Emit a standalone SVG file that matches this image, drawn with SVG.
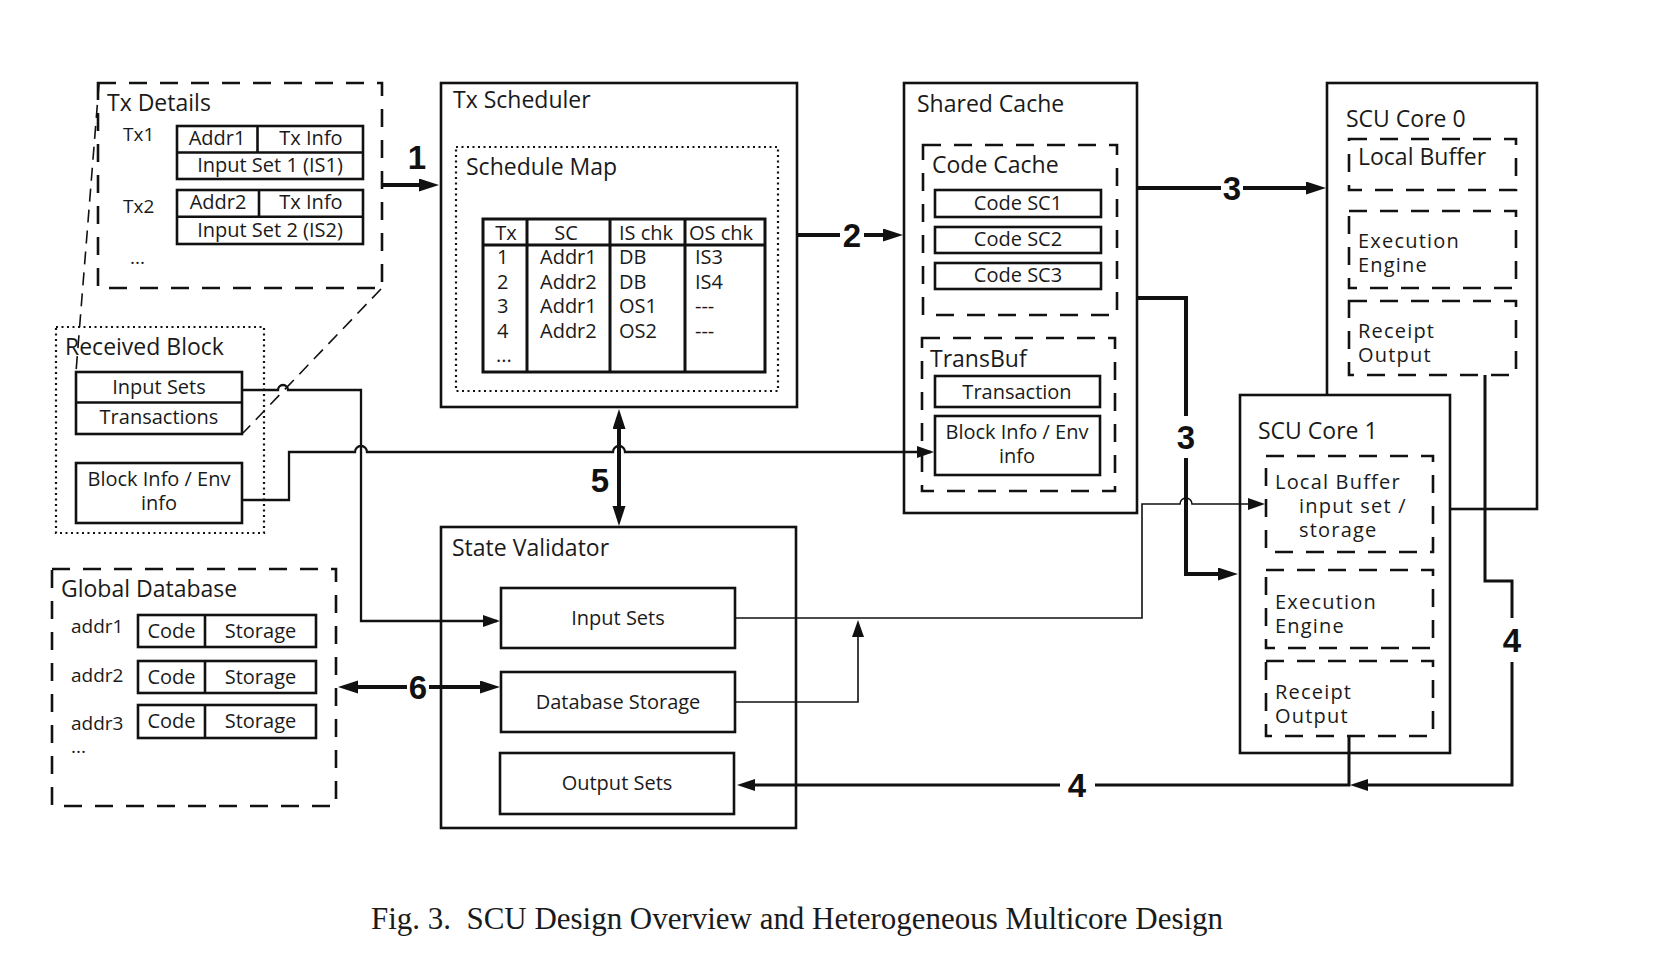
<svg xmlns="http://www.w3.org/2000/svg" width="1660" height="966" viewBox="0 0 1660 966">
<style>
.box{fill:#fff;stroke:#111;stroke-width:2.6}
.plain{fill:none;stroke:#111;stroke-width:2.6}
.dash{fill:none;stroke:#111;stroke-width:2.6;stroke-dasharray:18 13}
.dot{fill:none;stroke:#111;stroke-width:2.2;stroke-dasharray:2 3.5}
.zoomline{fill:none;stroke:#111;stroke-width:1.6;stroke-dasharray:13 8}
.tl{font-family:"Open Sans","Noto Sans",sans-serif;font-size:23px;fill:#1a1a1a}
.tw{font-family:"Open Sans","Noto Sans",sans-serif;font-size:20px;letter-spacing:1.2px;fill:#1a1a1a}
.tm{font-family:"Open Sans","Noto Sans",sans-serif;font-size:20px;fill:#1a1a1a}
.ts{font-family:"Open Sans","Noto Sans",sans-serif;font-size:19px;fill:#1a1a1a}
.c{text-anchor:middle}
.num{font-family:"Liberation Sans",Arial,sans-serif;font-weight:bold;font-size:33px;fill:#111;text-anchor:middle}
.thick{fill:none;stroke:#111;stroke-width:4}
.med{fill:none;stroke:#111;stroke-width:3}
.thin{fill:none;stroke:#111;stroke-width:2.3}
.hair{fill:none;stroke:#111;stroke-width:1.6}
.cap{font-family:"Liberation Serif","Times New Roman",serif;font-size:31px;fill:#1a1a1a}
</style>
<defs>
<marker id="big" markerUnits="userSpaceOnUse" markerWidth="22" markerHeight="14" refX="12" refY="6.5" orient="auto-start-reverse"><path d="M0,0 L20,6.5 L0,13 Z" fill="#111"/></marker>
<marker id="mid" markerUnits="userSpaceOnUse" markerWidth="20" markerHeight="13" refX="12" refY="6" orient="auto-start-reverse"><path d="M0,0 L18,6 L0,12 Z" fill="#111"/></marker>
<marker id="sm" markerUnits="userSpaceOnUse" markerWidth="19" markerHeight="12" refX="14" refY="6" orient="auto-start-reverse"><path d="M0,0 L17,6 L0,12 Z" fill="#111"/></marker>
</defs>
<rect width="1660" height="966" fill="#fff"/>

<g id="tx-details">
<rect class="dash" x="98" y="83" width="284" height="205"/>
<text class="tl" x="107" y="111">Tx Details</text>
<text class="ts" x="123" y="141">Tx1</text>
<rect class="box" x="177" y="126" width="186" height="53"/>
<path class="plain" d="M177,152.5 H363 M257.5,126 V152.5"/>
<text class="tm c" x="217" y="145">Addr1</text>
<text class="tm c" x="311" y="145">Tx Info</text>
<text class="tm c" x="270" y="172">Input Set 1 (IS1)</text>
<text class="ts" x="123" y="213">Tx2</text>
<rect class="box" x="177" y="190" width="186" height="54"/>
<path class="plain" d="M177,216.7 H363 M259,190 V216.7"/>
<text class="tm c" x="218" y="209">Addr2</text>
<text class="tm c" x="311" y="209">Tx Info</text>
<text class="tm c" x="270" y="237">Input Set 2 (IS2)</text>
<text class="ts" x="130" y="264">...</text>
</g>

<g id="received-block">
<rect class="dot" x="56" y="327" width="208" height="206"/>
<text class="tl" x="65" y="355">Received Block</text>
<rect class="box" x="76" y="372" width="166" height="62"/>
<path class="plain" d="M76,402.5 H242"/>
<text class="tm c" x="159" y="394">Input Sets</text>
<text class="tm c" x="159" y="424">Transactions</text>
<rect class="box" x="76" y="463" width="166" height="60"/>
<text class="tm c" x="159" y="486">Block Info / Env<tspan x="159" dy="24">info</tspan></text>
</g>

<g id="global-database">
<rect class="dash" x="52" y="569" width="284" height="237"/>
<text class="tl" x="61" y="597">Global Database</text>
<text class="ts" x="71" y="633">addr1</text>
<text class="ts" x="71" y="682">addr2</text>
<text class="ts" x="71" y="730">addr3</text>
<text class="ts" x="71" y="753">...</text>
<rect class="box" x="138" y="615" width="178" height="32"/>
<path class="plain" d="M205,615 V647"/>
<text class="tm c" x="171.5" y="638">Code</text>
<text class="tm c" x="260.5" y="638">Storage</text>
<rect class="box" x="138" y="661" width="178" height="32"/>
<path class="plain" d="M205,661 V693"/>
<text class="tm c" x="171.5" y="684">Code</text>
<text class="tm c" x="260.5" y="684">Storage</text>
<rect class="box" x="138" y="705" width="178" height="33"/>
<path class="plain" d="M205,705 V738"/>
<text class="tm c" x="171.5" y="728">Code</text>
<text class="tm c" x="260.5" y="728">Storage</text>
</g>

<g id="tx-scheduler">
<rect class="box" x="441" y="83" width="356" height="324"/>
<text class="tl" x="453" y="108">Tx Scheduler</text>
<rect class="dot" x="456" y="147" width="322" height="244"/>
<text class="tl" x="466" y="175">Schedule Map</text>
<rect class="box" x="483" y="219" width="282" height="153" style="stroke-width:3"/>
<path class="plain" style="stroke-width:3" d="M483,245 H765 M527,219 V372 M610,219 V372 M685,219 V372"/>
<text class="tm c" x="506" y="240">Tx</text>
<text class="tm c" x="566" y="240">SC</text>
<text class="tm" x="619" y="240">IS chk</text>
<text class="tm" x="689" y="240">OS chk</text>
<text class="tm" x="497" y="264">1</text>
<text class="tm" x="540" y="264">Addr1</text>
<text class="tm" x="619" y="264">DB</text>
<text class="tm" x="695" y="264">IS3</text>
<text class="tm" x="497" y="289">2</text>
<text class="tm" x="540" y="289">Addr2</text>
<text class="tm" x="619" y="289">DB</text>
<text class="tm" x="695" y="289">IS4</text>
<text class="tm" x="497" y="313">3</text>
<text class="tm" x="540" y="313">Addr1</text>
<text class="tm" x="619" y="313">OS1</text>
<text class="tm" x="695" y="313">---</text>
<text class="tm" x="497" y="338">4</text>
<text class="tm" x="540" y="338">Addr2</text>
<text class="tm" x="619" y="338">OS2</text>
<text class="tm" x="695" y="338">---</text>
<text class="tm" x="496" y="362">...</text>
</g>

<g id="shared-cache">
<rect class="box" x="904" y="83" width="233" height="430"/>
<text class="tl" x="917" y="112">Shared Cache</text>
<rect class="dash" x="923" y="145" width="194" height="170"/>
<text class="tl" x="932" y="173">Code Cache</text>
<rect class="box" x="935" y="190" width="166" height="27"/>
<text class="tm c" x="1018" y="210">Code SC1</text>
<rect class="box" x="935" y="227" width="166" height="26"/>
<text class="tm c" x="1018" y="246">Code SC2</text>
<rect class="box" x="935" y="263" width="166" height="26"/>
<text class="tm c" x="1018" y="282">Code SC3</text>
<rect class="dash" x="922" y="338" width="193" height="153"/>
<text class="tl" x="930" y="367">TransBuf</text>
<rect class="box" x="935" y="376" width="165" height="31"/>
<text class="tm c" x="1017" y="399">Transaction</text>
<rect class="box" x="935" y="416" width="165" height="59"/>
<text class="tm c" x="1017" y="439">Block Info / Env<tspan x="1017" dy="24">info</tspan></text>
</g>

<g id="scu-core-0">
<rect class="box" x="1327" y="83" width="210" height="426"/>
<text class="tl" x="1346" y="127">SCU Core 0</text>
<rect class="dash" x="1349" y="139" width="167" height="51"/>
<text class="tl" x="1358" y="165">Local Buffer</text>
<rect class="dash" x="1349" y="211" width="167" height="77"/>
<text class="tw" x="1358" y="248">Execution<tspan x="1358" dy="24">Engine</tspan></text>
<rect class="dash" x="1349" y="301" width="167" height="74"/>
<text class="tw" x="1358" y="338">Receipt<tspan x="1358" dy="24">Output</tspan></text>
</g>

<g id="scu-core-1">
<rect class="box" x="1240" y="395" width="210" height="358"/>
<text class="tl" x="1258" y="439">SCU Core 1</text>
<rect class="dash" x="1266" y="456" width="167" height="96"/>
<text class="tw" x="1275" y="489">Local Buffer<tspan x="1299" dy="24">input set /</tspan><tspan x="1299" dy="24">storage</tspan></text>
<rect class="dash" x="1266" y="570" width="167" height="78"/>
<text class="tw" x="1275" y="609">Execution<tspan x="1275" dy="24">Engine</tspan></text>
<rect class="dash" x="1266" y="661" width="167" height="75"/>
<text class="tw" x="1275" y="699">Receipt<tspan x="1275" dy="24">Output</tspan></text>
</g>

<g id="state-validator">
<rect class="box" x="441" y="527" width="355" height="301"/>
<text class="tl" x="452" y="556">State Validator</text>
<rect class="box" x="501" y="588" width="234" height="60"/>
<text class="tm c" x="618" y="625">Input Sets</text>
<rect class="box" x="501" y="672" width="234" height="60"/>
<text class="tm c" x="618" y="709">Database Storage</text>
<rect class="box" x="500" y="753" width="234" height="61"/>
<text class="tm c" x="617" y="790">Output Sets</text>
</g>

<g id="connectors">
<path class="zoomline" d="M99,84 L76,372"/>
<path class="zoomline" d="M381,289 L243,433"/>
<path class="thick" d="M383,185 H431" marker-end="url(#big)"/>
<text class="num" x="417" y="169">1</text>
<path class="thick" d="M797,235 H840 M864,235 H895" marker-end="url(#big)"/>
<text class="num" x="852" y="247">2</text>
<path class="thick" d="M1137,188 H1221 M1243,188 H1318" marker-end="url(#big)"/>
<text class="num" x="1232" y="200">3</text>
<path class="thick" d="M1137,298 H1186 V416"/>
<path class="thick" d="M1186,458 V574 H1230" marker-end="url(#big)"/>
<text class="num" x="1186" y="449">3</text>
<path class="thick" d="M619,417 V518" marker-start="url(#big)" marker-end="url(#big)"/>
<text class="num" x="600" y="492">5</text>
<path class="thick" d="M346,687 H407 M429,687 H492" marker-end="url(#big)"/>
<path class="thick" d="M346,687 H360" marker-start="url(#big)"/>
<text class="num" x="418" y="699">6</text>
<path class="thin" d="M242,390 H278 a5,5 0 0 1 10,0 H361 V621 H497" marker-end="url(#sm)"/>
<path class="thin" d="M242,500 H289 V452 H355 a6,6 0 0 1 12,0 H613 a6,6 0 0 1 12,0 H931" marker-end="url(#sm)"/>
<path class="hair" d="M735,618 H1142 V504 H1180 a6,6 0 0 1 12,0 H1262" marker-end="url(#sm)"/>
<path class="hair" d="M735,702 H858 V623" marker-end="url(#sm)"/>
<path class="med" d="M1485,375 V581 H1512 V618"/>
<path class="med" d="M1512,662 V785 H1356" marker-end="url(#mid)"/>
<text class="num" x="1512" y="652">4</text>
<path class="med" d="M1349,736 V785 H1095 M1060,785 H743" marker-end="url(#mid)"/>
<text class="num" x="1077" y="797">4</text>
</g>

<text class="cap" x="371" y="929" textLength="852" lengthAdjust="spacingAndGlyphs" xml:space="preserve">Fig. 3.  SCU Design Overview and Heterogeneous Multicore Design</text>
</svg>
